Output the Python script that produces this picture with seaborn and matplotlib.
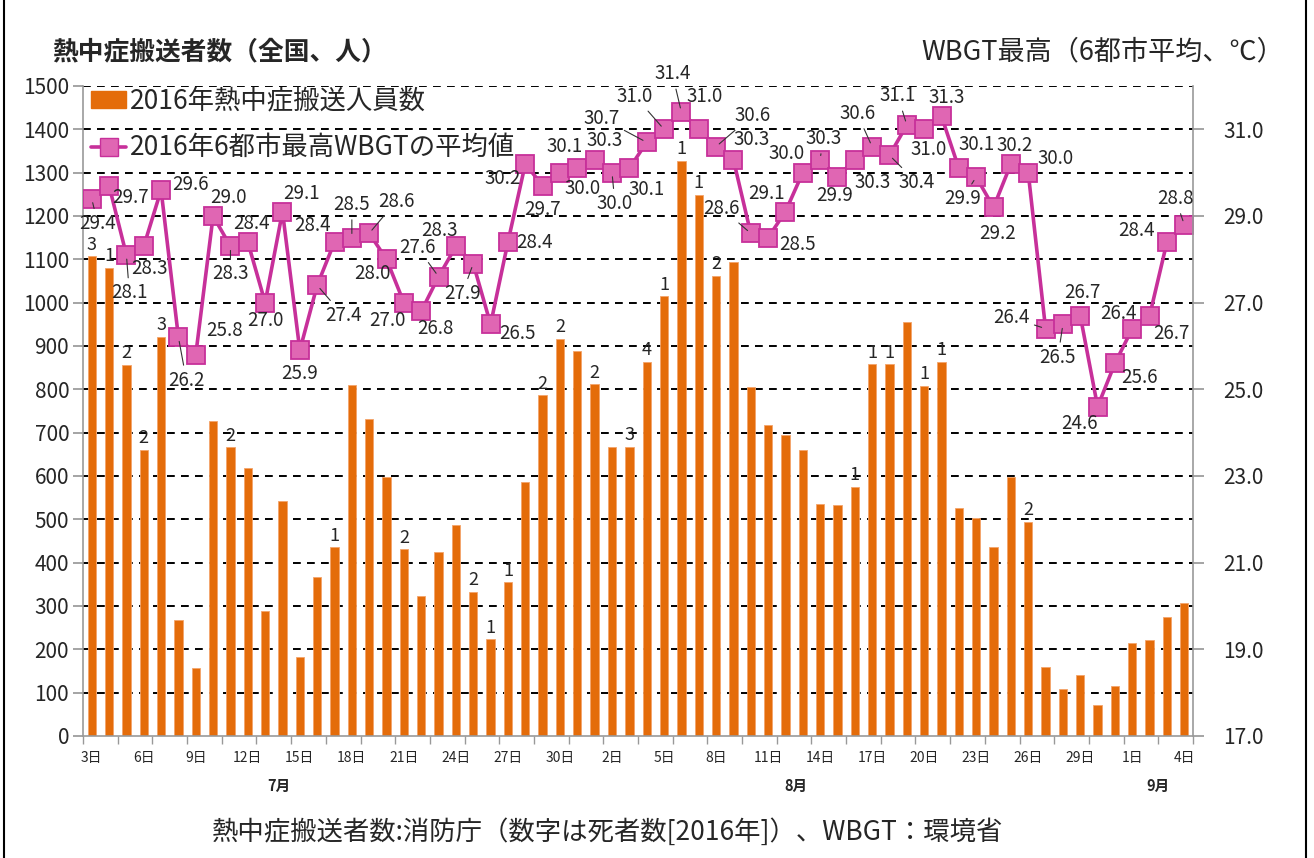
import numpy as np
import pandas as pd
import matplotlib
matplotlib.use("Agg")
import matplotlib.pyplot as plt
from matplotlib.lines import Line2D
from matplotlib.patches import Patch
import seaborn as sns

# data: 2016-07-03 .. 2016-09-04
dates = pd.date_range("2016-07-03", "2016-09-04", freq="D")
transported = [1107, 1080, 856, 660, 921, 268, 158, 728, 666, 618,
               288, 543, 183, 368, 435, 811, 731, 597, 431, 322,
               425, 488, 333, 223, 355, 585, 786, 917, 889,
               812, 668, 668, 863, 1015, 1328, 1249, 1062, 1094, 806,
               718, 694, 660, 535, 534, 575, 858, 858, 956, 808,
               863, 525, 504, 435, 597, 494, 160, 108, 140, 72, 116,
               214, 222, 275, 306]
deaths = [3, 1, 2, 2, 3, 0, 0, 0, 2, 0,
          0, 0, 0, 0, 1, 0, 0, 0, 2, 0,
          0, 0, 2, 1, 1, 0, 2, 2, 0,
          2, 0, 3, 4, 1, 1, 1, 2, 0, 0,
          0, 0, 0, 0, 0, 1, 1, 1, 0, 1,
          1, 0, 0, 0, 0, 2, 0, 0, 0, 0, 0,
          0, 0, 0, 0]
wbgt = [29.4, 29.7, 28.1, 28.3, 29.6, 26.2, 25.8, 29.0, 28.3, 28.4,
        27.0, 29.1, 25.9, 27.4, 28.4, 28.5, 28.6, 28.0, 27.0, 26.8,
        27.6, 28.3, 27.9, 26.5, 28.4, 30.2, 29.7, 30.0, 30.1,
        30.3, 30.0, 30.1, 30.7, 31.0, 31.4, 31.0, 30.6, 30.3, 28.6,
        28.5, 29.1, 30.0, 30.3, 29.9, 30.3, 30.6, 30.4, 31.1, 31.0,
        31.3, 30.1, 29.9, 29.2, 30.2, 30.0, 26.4, 26.5, 26.7, 24.6, 25.6,
        26.4, 26.7, 28.4, 28.8]
months = [(10.8, "7月"), (40.6, "8月"), (61.5, "9月")]

# label offsets for the WBGT values (pixels, screen y down) and leader flags
lbl_off = [(6, 25, 1), (21, 12, 0), (3, 38, 1), (6, 22, 0), (29, -5, 0),
           (8, 43, 1), (29, -24, 0), (15, -18, 0), (0, 27, 1), (4, -18, 0),
           (0, 18, 0), (19, -18, 0), (0, 23, 0), (26, 30, 1), (-22, -16, 0),
           (0, -33, 1), (27, -32, 1), (-14, 14, 0), (-16, 18, 0), (14, 17, 0),
           (-21, -29, 1), (-16, -16, 0), (-11, 30, 1), (27, 9, 0), (27, 1, 0),
           (-23, 15, 0), (0, 24, 0), (23, 16, 0), (-13, -22, 0), (10, -19, 0),
           (3, 31, 1), (17, 21, 0), (-45, -24, 1), (-29, -33, 1), (-9, -38, 1),
           (6, -33, 0), (36, -31, 1), (18, -20, 0), (-29, -25, 1), (29, 7, 0),
           (-19, -18, 0), (-16, -19, 0), (3, -21, 1), (-3, 19, 0), (18, 23, 0),
           (-15, -33, 1), (27, 27, 1), (-9, -29, 1), (4, 20, 0), (5, -19, 0),
           (18, -24, 0), (-14, 22, 1), (4, 26, 0), (4, -18, 0), (27, -14, 0),
           (-34, -11, 1), (-5, 33, 1), (2, -23, 0), (-18, 17, 0), (25, 14, 0),
           (-14, -15, 0), (22, 18, 0), (-30, -11, 0), (-9, -26, 1)]

df = pd.DataFrame({"idx": np.arange(len(dates)), "people": transported,
                   "wbgt": wbgt})

sns.set_theme(style="white")
plt.rcParams["font.family"] = ["Noto Sans CJK JP", "DejaVu Sans"]

bar_color = "#E46C0A"
line_color = "#C7309A"
marker_face = "#E066B3"

fig = plt.figure(figsize=(13.14, 8.58), dpi=100)
ax = fig.add_axes([0.0632, 0.1422, 0.8447, 0.7576])

sns.barplot(data=df, x="idx", y="people", color=bar_color, saturation=1,
            width=0.48, ax=ax, zorder=2, edgecolor="#F4A46A", linewidth=0.6)
ax.set_xlim(-0.5, len(dates) - 0.5)
ax.set_ylim(0, 1500)
ax.set_yticks(range(0, 1501, 100))
ax.tick_params(axis="y", labelsize=15, length=7, color="#999999",
               left=True, pad=3)
for y in range(100, 1501, 100):
    ax.axhline(y, color="black", lw=1.4, ls=(0, (4, 3.2)), zorder=1)
for s in ["top", "right"]:
    ax.spines[s].set_visible(False)
for s in ["left", "bottom"]:
    ax.spines[s].set_color("#999999")
    ax.spines[s].set_linewidth(1.2)

# x ticks: marks every 2 days, labels every 3 days
ax.set_xticks(np.arange(-0.5, len(dates), 2), minor=True)
ax.tick_params(axis="x", which="minor", length=6, color="#999999",
               bottom=True)
ax.set_xticks(range(0, len(dates), 3))
ax.set_xticklabels([f"{d.day}日" for d in dates[::3]], fontsize=10)
ax.tick_params(axis="x", which="major", length=0, pad=11)
ax.set_xlabel("")
ax.set_ylabel("")
for pos, m in months:
    ax.text(pos, -0.077, m, transform=ax.get_xaxis_transform(),
            ha="center", va="center", fontsize=10.5, fontweight="bold")

# death counts above bars
for i, (v, d) in enumerate(zip(transported, deaths)):
    if d > 0:
        ax.text(i, v + 6, str(d), ha="center", va="bottom", fontsize=13,
                zorder=3)

# WBGT line on the right axis
ax2 = ax.twinx()
sns.lineplot(data=df, x="idx", y="wbgt", ax=ax2, color=line_color,
             linewidth=2.6, marker="s", markersize=12.5,
             markerfacecolor=marker_face, markeredgecolor=line_color,
             markeredgewidth=1.3)
ax2.set_ylim(17, 32)
ax2.set_yticks(np.arange(17, 32, 2))
ax2.set_yticklabels([f"{t:.1f}" for t in np.arange(17, 32, 2)])
ax2.tick_params(axis="y", labelsize=15, length=8, color="#999999",
                right=True, pad=14)
ax2.set_ylabel("")
ax2.set_xlabel("")
for s in ["top", "left", "bottom"]:
    ax2.spines[s].set_visible(False)
ax2.spines["right"].set_color("#999999")
ax2.spines["right"].set_linewidth(1.2)

for i, (v, (dx, dy, lead)) in enumerate(zip(wbgt, lbl_off)):
    kw = {}
    if lead:
        kw["arrowprops"] = dict(arrowstyle="-", color="#333333", lw=0.8,
                                shrinkA=1, shrinkB=3)
    ax2.annotate(f"{v:.1f}", (i, v), xytext=(dx, -dy),
                 textcoords="offset pixels", ha="center", va="center",
                 fontsize=13.5, zorder=5, **kw)

# legend
handles = [Patch(facecolor=bar_color, edgecolor=bar_color),
           Line2D([], [], color=line_color, lw=2.6, marker="s",
                  markersize=12.5, markerfacecolor=marker_face,
                  markeredgecolor=line_color)]
leg = ax2.legend(handles, ["2016年熱中症搬送人員数", "2016年6都市最高WBGTの平均値"],
                 loc="upper left", bbox_to_anchor=(-0.012, 1.03),
                 frameon=False, fontsize=19, handlelength=1.35,
                 handleheight=0.6, handletextpad=0.15, labelspacing=0.75,
                 borderpad=0.3)

# titles and source
fig.text(0.04, 0.94, "熱中症搬送者数（全国、人）", fontsize=18.5,
         fontweight="bold", ha="left", va="center")
fig.text(0.977, 0.94, "WBGT最高（6都市平均、℃）", fontsize=19.5,
         ha="right", va="center")
fig.text(0.462, 0.03, "熱中症搬送者数:消防庁（数字は死者数[2016年]）、WBGT：環境省",
         fontsize=19, ha="center", va="center")

# outer frame
fig.add_artist(Line2D([0.003, 0.003], [0, 1], transform=fig.transFigure,
                      color="black", lw=1.5))
fig.add_artist(Line2D([0.994, 0.994], [0, 1], transform=fig.transFigure,
                      color="black", lw=1.5))

fig.savefig("out.png", dpi=100)
